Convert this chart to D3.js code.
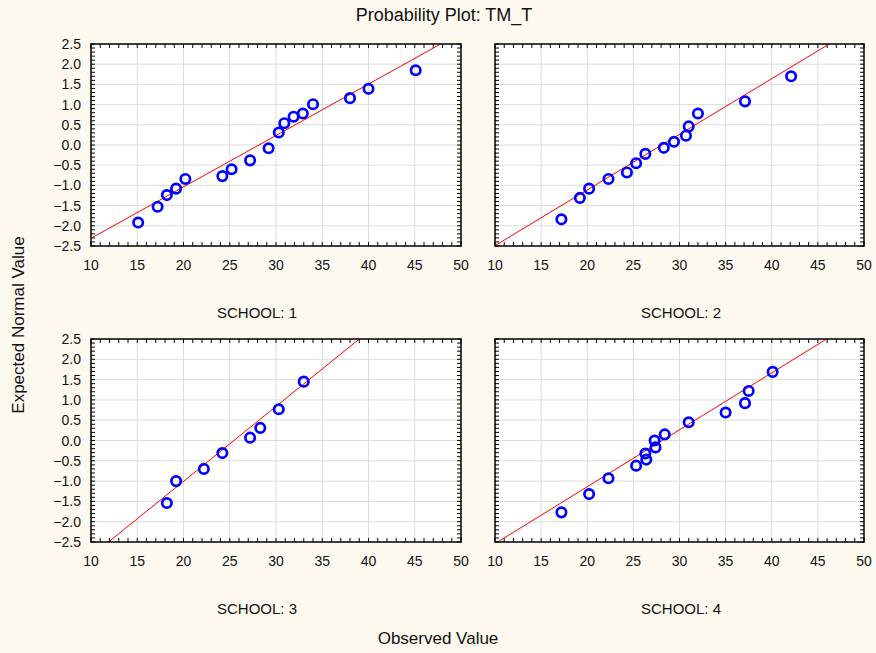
<!DOCTYPE html>
<html>
<head>
<meta charset="utf-8">
<script src="https://cdn.jsdelivr.net/npm/d3@7"></script>
<style>
  html, body { margin: 0; padding: 0; background: #fdf9ee; }
  svg { display: block; font-family: "Liberation Sans", Arial, sans-serif; }
</style>
</head>
<body>
<svg id="chart" width="876" height="653"></svg>
<script>
// Probability plot of TM_T, one panel per school
const schools = ["SCHOOL: 1", "SCHOOL: 2", "SCHOOL: 3", "SCHOOL: 4"];

// Observed values (x) and expected normal values (y) per school
const observed1 = [15.1, 17.2, 18.2, 19.2, 20.2, 24.2, 25.2, 27.2, 29.2, 30.3, 30.9, 31.9, 32.9, 34.0, 38.0, 40.0, 45.1];
const expected1 = [-1.92, -1.53, -1.24, -1.08, -0.84, -0.77, -0.60, -0.38, -0.08, 0.31, 0.54, 0.70, 0.78, 1.01, 1.16, 1.39, 1.85];

const observed2 = [17.2, 19.2, 20.2, 22.3, 24.3, 25.3, 26.3, 28.3, 29.4, 30.7, 31.0, 32.0, 37.1, 42.1];
const expected2 = [-1.84, -1.31, -1.08, -0.84, -0.68, -0.45, -0.22, -0.07, 0.08, 0.23, 0.46, 0.78, 1.08, 1.70];

const observed3 = [18.2, 19.2, 22.2, 24.2, 27.2, 28.3, 30.3, 33.0];
const expected3 = [-1.54, -1.00, -0.70, -0.31, 0.07, 0.31, 0.77, 1.45];

const observed4 = [17.2, 20.2, 22.3, 25.3, 26.4, 26.3, 27.4, 27.3, 28.4, 31.0, 35.0, 37.1, 37.5, 40.1];
const expected4 = [-1.77, -1.32, -0.93, -0.62, -0.47, -0.32, -0.17, 0.00, 0.15, 0.45, 0.69, 0.92, 1.22, 1.69];

// Fitted normal reference line per school: y = (x - mean) / sd
const fitMean = [28.15, 28.08, 25.45, 28.12];
const fitSD = [7.86, 7.26, 5.42, 7.13];

// Axis ticks
const xTicks = [10, 15, 20, 25, 30, 35, 40, 45, 50];
const yTicks = [-2.5, -2.0, -1.5, -1.0, -0.5, 0.0, 0.5, 1.0, 1.5, 2.0, 2.5];

const observedAll = [observed1, observed2, observed3, observed4];
const expectedAll = [expected1, expected2, expected3, expected4];

const svg = d3.select("#chart");

// Panel frames
const cols = [{ x0: 91, x1: 461 }, { x0: 495, x1: 864 }];
const rows = [{ y0: 44, y1: 246 }, { y0: 339, y1: 542 }];
const labelCenters = [257, 681];

svg.append("text")
  .attr("x", 444).attr("y", 21)
  .attr("text-anchor", "middle")
  .attr("font-size", 18)
  .attr("fill", "#111")
  .text("Probability Plot: TM_T");

svg.append("text")
  .attr("x", 438).attr("y", 644)
  .attr("text-anchor", "middle")
  .attr("font-size", 17)
  .attr("fill", "#111")
  .text("Observed Value");

svg.append("text")
  .attr("transform", "translate(24,325) rotate(-90)")
  .attr("text-anchor", "middle")
  .attr("font-size", 17)
  .attr("fill", "#111")
  .text("Expected Normal Value");

const defs = svg.append("defs");

schools.forEach((name, i) => {
  const col = cols[i % 2], row = rows[Math.floor(i / 2)];
  const x = d3.scaleLinear().domain([10, 50]).range([col.x0, col.x1]);
  const y = d3.scaleLinear().domain([-2.5, 2.5]).range([row.y1, row.y0]);
  const g = svg.append("g");

  defs.append("clipPath").attr("id", "clip" + i)
    .append("rect")
    .attr("x", col.x0).attr("y", row.y0)
    .attr("width", col.x1 - col.x0).attr("height", row.y1 - row.y0);

  // plot area
  g.append("rect")
    .attr("x", col.x0).attr("y", row.y0)
    .attr("width", col.x1 - col.x0).attr("height", row.y1 - row.y0)
    .attr("fill", "#ffffff");

  // grid
  g.append("g").selectAll("line").data(xTicks.slice(1, -1)).join("line")
    .attr("x1", d => x(d)).attr("x2", d => x(d))
    .attr("y1", row.y0).attr("y2", row.y1)
    .attr("stroke", "#dcdcdc").attr("stroke-width", 1);
  g.append("g").selectAll("line").data(yTicks.slice(1, -1)).join("line")
    .attr("x1", col.x0).attr("x2", col.x1)
    .attr("y1", d => y(d)).attr("y2", d => y(d))
    .attr("stroke", "#dcdcdc").attr("stroke-width", 1);

  // inward tick marks on all four sides
  const xMinor = d3.range(10, 50.001, 1);
  const yMinor = d3.range(-25, 25.001, 1).map(v => v / 10);
  const tickLen = 4;
  const tg = g.append("g").attr("stroke", "#000").attr("stroke-width", 1);
  xMinor.forEach(v => {
    tg.append("line").attr("x1", x(v)).attr("x2", x(v)).attr("y1", row.y1).attr("y2", row.y1 - tickLen);
    tg.append("line").attr("x1", x(v)).attr("x2", x(v)).attr("y1", row.y0).attr("y2", row.y0 + tickLen);
  });
  yMinor.forEach(v => {
    tg.append("line").attr("y1", y(v)).attr("y2", y(v)).attr("x1", col.x0).attr("x2", col.x0 + tickLen);
    tg.append("line").attr("y1", y(v)).attr("y2", y(v)).attr("x1", col.x1).attr("x2", col.x1 - tickLen);
  });

  // reference line
  g.append("line")
    .attr("clip-path", "url(#clip" + i + ")")
    .attr("x1", x(10)).attr("y1", y((10 - fitMean[i]) / fitSD[i]))
    .attr("x2", x(50)).attr("y2", y((50 - fitMean[i]) / fitSD[i]))
    .attr("stroke", "#ff0000").attr("stroke-width", 1);

  // frame
  g.append("rect")
    .attr("x", col.x0).attr("y", row.y0)
    .attr("width", col.x1 - col.x0).attr("height", row.y1 - row.y0)
    .attr("fill", "none").attr("stroke", "#000").attr("stroke-width", 1.5);

  // points
  const pts = observedAll[i].map((v, k) => ({ x: v, y: expectedAll[i][k] }));
  g.append("g").selectAll("circle").data(pts).join("circle")
    .attr("cx", d => x(d.x)).attr("cy", d => y(d.y))
    .attr("r", 4.7)
    .attr("fill", "none")
    .attr("stroke", "#0000ff")
    .attr("stroke-width", 2.7);

  // x tick labels
  g.append("g").selectAll("text").data(xTicks).join("text")
    .attr("x", d => x(d)).attr("y", row.y1 + 24)
    .attr("text-anchor", "middle")
    .attr("font-size", 14).attr("fill", "#111")
    .text(d => d3.format("d")(d));

  // y tick labels on the left column
  if (i % 2 === 0) {
    g.append("g").selectAll("text").data(yTicks).join("text")
      .attr("x", col.x0 - 10).attr("y", d => y(d) + 5)
      .attr("text-anchor", "end")
      .attr("font-size", 14).attr("fill", "#111")
      .text(d => d3.format(".1f")(d));
  }

  // panel label
  g.append("text")
    .attr("x", labelCenters[i % 2]).attr("y", row.y1 + 72)
    .attr("text-anchor", "middle")
    .attr("font-size", 15).attr("fill", "#111")
    .text(name);
});
</script>
</body>
</html>
